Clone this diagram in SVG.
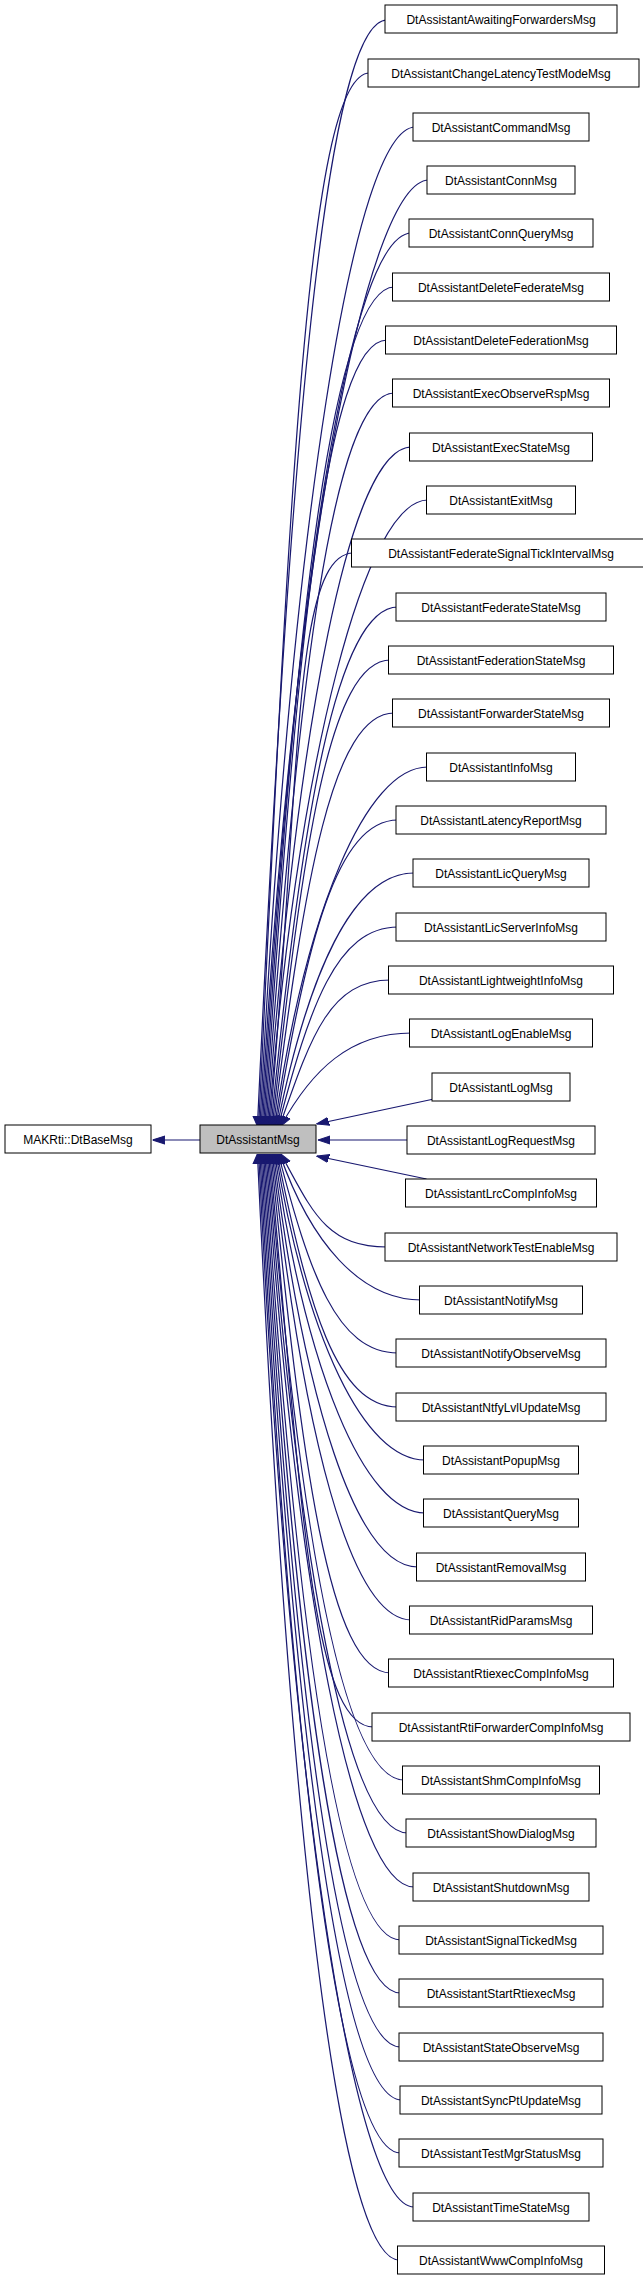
<svg xmlns="http://www.w3.org/2000/svg" width="643" height="2280" viewBox="0 0 643 2280">
<style>
.n rect{fill:#fff;stroke:#000;stroke-width:1}
.n text{font-family:"Liberation Sans",Arial,sans-serif;font-size:12px;text-anchor:middle;fill:#000}
#edges path{fill:none;stroke:#191970;stroke-width:1;marker-end:url(#ah)}
</style>
<defs><marker id="ah" viewBox="0 0 10 10" refX="10" refY="5" markerWidth="10" markerHeight="10" markerUnits="userSpaceOnUse" orient="auto"><path d="M0,1 L10,5 L0,9 Z" fill="#191970" stroke="#191970"/></marker></defs>
<g id="edges" transform="matrix(1.234 0 0 1 0.76 0)">
<path d="M163,1140 L123,1140"/>
<path d="M313,20 C263,20 233,462 208,1126"/>
<path d="M299,73 C249,73 234,494 209,1126"/>
<path d="M336,127 C286,127 235,526 210,1126"/>
<path d="M347,180 C297,180 236,558 211,1126"/>
<path d="M333,233 C283,233 237,590 212,1126"/>
<path d="M319,287 C269,287 238,623 213,1126"/>
<path d="M313,340 C263,340 239,654 214,1126"/>
<path d="M319,393 C269,393 240,686 215,1126"/>
<path d="M333,447 C283,447 241,719 216,1126"/>
<path d="M346,500 C296,500 242,750 217,1126"/>
<path d="M286,553 C236,553 243,782 218,1126"/>
<path d="M322,607 C272,607 244,815 219,1126"/>
<path d="M316,660 C266,660 245,846 220,1126"/>
<path d="M319,713 C269,713 246,878 221,1126"/>
<path d="M346,767 C296,767 247,911 222,1126"/>
<path d="M322,820 C272,820 248,942 223,1126"/>
<path d="M335,873 C285,873 249,974 224,1126"/>
<path d="M322,927 C272,927 250,1007 225,1126"/>
<path d="M316,980 C266,980 251,1038 226,1126"/>
<path d="M333,1033 C283,1033 252,1070 227,1126"/>
<path d="M351,1099 L256,1124"/>
<path d="M331,1140 L257,1140"/>
<path d="M345,1179 L256,1156"/>
<path d="M313,1247 C263,1247 252,1210 227,1154"/>
<path d="M341,1300 C291,1300 251,1242 226,1154"/>
<path d="M322,1353 C272,1353 250,1273 225,1154"/>
<path d="M322,1407 C272,1407 249,1306 224,1154"/>
<path d="M344,1460 C294,1460 248,1338 223,1154"/>
<path d="M344,1513 C294,1513 247,1369 222,1154"/>
<path d="M338,1567 C288,1567 246,1402 221,1154"/>
<path d="M333,1620 C283,1620 245,1434 220,1154"/>
<path d="M316,1673 C266,1673 244,1465 219,1154"/>
<path d="M302,1727 C252,1727 243,1498 218,1154"/>
<path d="M327,1780 C277,1780 242,1530 217,1154"/>
<path d="M330,1833 C280,1833 241,1561 216,1154"/>
<path d="M335,1887 C285,1887 240,1594 215,1154"/>
<path d="M324,1940 C274,1940 239,1626 214,1154"/>
<path d="M324,1993 C274,1993 238,1657 213,1154"/>
<path d="M324,2047 C274,2047 237,1690 212,1154"/>
<path d="M325,2100 C275,2100 236,1722 211,1154"/>
<path d="M324,2153 C274,2153 235,1753 210,1154"/>
<path d="M335,2207 C285,2207 234,1786 209,1154"/>
<path d="M323,2260 C273,2260 233,1818 208,1154"/>
</g>
<g id="base" class="n"><rect x="5" y="1125" width="146" height="28"/><text x="78" y="1144">MAKRti::DtBaseMsg</text></g>
<g id="main" class="n"><rect x="200" y="1125" width="116" height="28" style="fill:#bfbfbf"/><text x="258" y="1144">DtAssistantMsg</text></g>
<g id="c0" class="n"><rect x="385" y="5" width="232" height="28"/><text x="501" y="24">DtAssistantAwaitingForwardersMsg</text></g>
<g id="c1" class="n"><rect x="368" y="59" width="271" height="28"/><text x="501" y="78">DtAssistantChangeLatencyTestModeMsg</text></g>
<g id="c2" class="n"><rect x="413" y="113" width="176" height="28"/><text x="501" y="132">DtAssistantCommandMsg</text></g>
<g id="c3" class="n"><rect x="427" y="166" width="148" height="28"/><text x="501" y="185">DtAssistantConnMsg</text></g>
<g id="c4" class="n"><rect x="409" y="219" width="184" height="28"/><text x="501" y="238">DtAssistantConnQueryMsg</text></g>
<g id="c5" class="n"><rect x="392.5" y="273" width="217" height="28"/><text x="501" y="292">DtAssistantDeleteFederateMsg</text></g>
<g id="c6" class="n"><rect x="385.5" y="326" width="231" height="28"/><text x="501" y="345">DtAssistantDeleteFederationMsg</text></g>
<g id="c7" class="n"><rect x="392.5" y="379" width="217" height="28"/><text x="501" y="398">DtAssistantExecObserveRspMsg</text></g>
<g id="c8" class="n"><rect x="409.5" y="433" width="183" height="28"/><text x="501" y="452">DtAssistantExecStateMsg</text></g>
<g id="c9" class="n"><rect x="426.5" y="486" width="149" height="28"/><text x="501" y="505">DtAssistantExitMsg</text></g>
<g id="c10" class="n"><rect x="351.5" y="539" width="299" height="28"/><text x="501" y="558">DtAssistantFederateSignalTickIntervalMsg</text></g>
<g id="c11" class="n"><rect x="396" y="593" width="210" height="28"/><text x="501" y="612">DtAssistantFederateStateMsg</text></g>
<g id="c12" class="n"><rect x="388.5" y="646" width="225" height="28"/><text x="501" y="665">DtAssistantFederationStateMsg</text></g>
<g id="c13" class="n"><rect x="392.5" y="699" width="217" height="28"/><text x="501" y="718">DtAssistantForwarderStateMsg</text></g>
<g id="c14" class="n"><rect x="426.5" y="753" width="149" height="28"/><text x="501" y="772">DtAssistantInfoMsg</text></g>
<g id="c15" class="n"><rect x="396" y="806" width="210" height="28"/><text x="501" y="825">DtAssistantLatencyReportMsg</text></g>
<g id="c16" class="n"><rect x="413" y="859" width="176" height="28"/><text x="501" y="878">DtAssistantLicQueryMsg</text></g>
<g id="c17" class="n"><rect x="396" y="913" width="210" height="28"/><text x="501" y="932">DtAssistantLicServerInfoMsg</text></g>
<g id="c18" class="n"><rect x="388.5" y="966" width="225" height="28"/><text x="501" y="985">DtAssistantLightweightInfoMsg</text></g>
<g id="c19" class="n"><rect x="409.5" y="1019" width="183" height="28"/><text x="501" y="1038">DtAssistantLogEnableMsg</text></g>
<g id="c20" class="n"><rect x="432" y="1073" width="138" height="28"/><text x="501" y="1092">DtAssistantLogMsg</text></g>
<g id="c21" class="n"><rect x="407" y="1126" width="188" height="28"/><text x="501" y="1145">DtAssistantLogRequestMsg</text></g>
<g id="c22" class="n"><rect x="405.5" y="1179" width="191" height="28"/><text x="501" y="1198">DtAssistantLrcCompInfoMsg</text></g>
<g id="c23" class="n"><rect x="385" y="1233" width="232" height="28"/><text x="501" y="1252">DtAssistantNetworkTestEnableMsg</text></g>
<g id="c24" class="n"><rect x="419.5" y="1286" width="163" height="28"/><text x="501" y="1305">DtAssistantNotifyMsg</text></g>
<g id="c25" class="n"><rect x="396" y="1339" width="210" height="28"/><text x="501" y="1358">DtAssistantNotifyObserveMsg</text></g>
<g id="c26" class="n"><rect x="396" y="1393" width="210" height="28"/><text x="501" y="1412">DtAssistantNtfyLvlUpdateMsg</text></g>
<g id="c27" class="n"><rect x="423.5" y="1446" width="155" height="28"/><text x="501" y="1465">DtAssistantPopupMsg</text></g>
<g id="c28" class="n"><rect x="423.5" y="1499" width="155" height="28"/><text x="501" y="1518">DtAssistantQueryMsg</text></g>
<g id="c29" class="n"><rect x="416.5" y="1553" width="169" height="28"/><text x="501" y="1572">DtAssistantRemovalMsg</text></g>
<g id="c30" class="n"><rect x="409.5" y="1606" width="183" height="28"/><text x="501" y="1625">DtAssistantRidParamsMsg</text></g>
<g id="c31" class="n"><rect x="388.5" y="1659" width="225" height="28"/><text x="501" y="1678">DtAssistantRtiexecCompInfoMsg</text></g>
<g id="c32" class="n"><rect x="372" y="1713" width="258" height="28"/><text x="501" y="1732">DtAssistantRtiForwarderCompInfoMsg</text></g>
<g id="c33" class="n"><rect x="402.5" y="1766" width="197" height="28"/><text x="501" y="1785">DtAssistantShmCompInfoMsg</text></g>
<g id="c34" class="n"><rect x="406" y="1819" width="190" height="28"/><text x="501" y="1838">DtAssistantShowDialogMsg</text></g>
<g id="c35" class="n"><rect x="413" y="1873" width="176" height="28"/><text x="501" y="1892">DtAssistantShutdownMsg</text></g>
<g id="c36" class="n"><rect x="399" y="1926" width="204" height="28"/><text x="501" y="1945">DtAssistantSignalTickedMsg</text></g>
<g id="c37" class="n"><rect x="399" y="1979" width="204" height="28"/><text x="501" y="1998">DtAssistantStartRtiexecMsg</text></g>
<g id="c38" class="n"><rect x="399" y="2033" width="204" height="28"/><text x="501" y="2052">DtAssistantStateObserveMsg</text></g>
<g id="c39" class="n"><rect x="400" y="2086" width="202" height="28"/><text x="501" y="2105">DtAssistantSyncPtUpdateMsg</text></g>
<g id="c40" class="n"><rect x="399" y="2139" width="204" height="28"/><text x="501" y="2158">DtAssistantTestMgrStatusMsg</text></g>
<g id="c41" class="n"><rect x="413" y="2193" width="176" height="28"/><text x="501" y="2212">DtAssistantTimeStateMsg</text></g>
<g id="c42" class="n"><rect x="397.5" y="2246" width="207" height="28"/><text x="501" y="2265">DtAssistantWwwCompInfoMsg</text></g>
</svg>
